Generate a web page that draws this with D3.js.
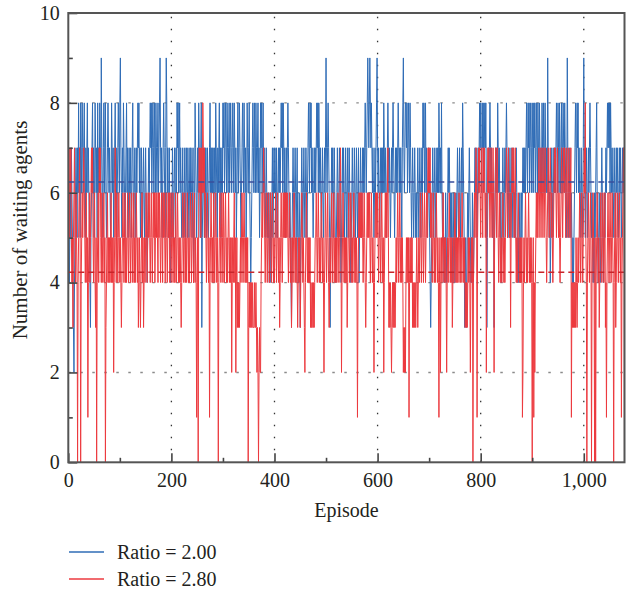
<!DOCTYPE html>
<html>
<head>
<meta charset="utf-8">
<script src="https://cdn.jsdelivr.net/npm/d3@7"></script>
<style>
  html, body { margin: 0; padding: 0; background: #fff; }
  svg { display: block; }
  text { font-family: "Liberation Serif", "Times New Roman", serif; fill: #231f20; }
</style>
</head>
<body>
<svg id="chart" width="632" height="590"></svg>
<script>
// Waiting agents per episode, ratio 2.00
const blueWaiting = [
  5,6,4,5,6,5,7,6,5,4,3,2,4,5,6,7,6,5,7,6,8,6,7,5,8,7,6,8,7,6,7,8,6,5,7,6,7,8,6,7,
  6,5,4,3,5,6,7,8,6,7,5,6,8,7,6,7,5,8,6,7,6,8,7,6,9,7,6,5,7,8,6,7,8,6,5,6,7,8,7,6,
  7,6,5,6,8,7,6,7,5,6,7,8,6,7,5,6,7,8,7,6,8,9,7,6,5,7,6,8,7,6,5,6,7,8,6,7,5,6,7,6,
  6,7,5,6,7,8,6,5,6,7,6,5,7,6,7,8,7,8,6,7,5,6,7,6,5,6,7,6,5,6,7,6,5,4,5,6,7,6,7,8,
  7,8,6,7,8,7,6,8,7,6,8,7,6,7,8,6,7,8,9,7,6,7,5,6,7,8,7,6,5,7,9,8,6,7,5,6,7,5,4,5,
  6,5,7,6,5,6,7,6,5,7,6,8,7,8,6,7,8,6,7,6,5,6,7,5,6,6,7,5,6,7,6,5,7,6,5,6,7,6,7,6,
  5,6,7,4,5,6,8,7,6,5,6,7,6,8,7,6,5,7,8,3,5,6,7,6,5,7,6,7,5,6,7,6,5,6,7,8,6,7,6,7,
  6,7,5,6,7,6,8,7,6,5,7,6,7,8,6,7,5,6,7,6,8,7,8,6,7,8,7,6,8,7,6,7,8,6,7,8,7,6,7,8,
  7,6,8,7,6,7,5,6,7,8,6,7,8,7,6,5,6,7,8,7,6,8,7,6,7,5,6,8,7,6,7,8,6,5,4,5,6,7,8,7,
  6,8,7,6,8,7,6,7,8,6,7,5,6,8,7,8,6,7,8,6,7,6,5,6,7,6,5,6,5,6,4,5,6,4,5,6,7,5,6,7,
  6,7,6,5,7,6,5,6,7,6,7,6,7,8,7,8,6,8,7,6,7,5,6,7,6,7,8,7,6,5,6,5,4,3,5,6,7,6,5,6,
  7,6,5,6,7,5,4,5,6,5,3,5,6,7,6,5,6,7,6,5,6,7,6,5,6,7,8,7,6,8,7,8,6,7,6,5,6,7,6,7,
  6,7,8,7,8,6,8,7,6,7,6,5,6,7,6,5,6,7,6,7,9,7,6,7,8,7,6,5,3,5,6,7,6,7,5,6,7,6,5,4,
  5,6,7,6,5,6,7,6,5,4,5,6,7,6,7,6,5,6,7,6,5,6,7,5,6,7,6,5,4,5,6,7,6,5,6,7,6,5,6,7,
  6,5,6,7,4,5,6,7,6,5,6,7,6,7,6,7,8,7,6,7,8,9,8,7,8,9,8,7,8,7,6,7,6,5,6,7,6,7,8,9,
  7,6,7,6,5,6,7,6,7,6,7,6,8,7,6,7,6,5,6,7,8,7,6,7,6,5,6,7,6,7,8,7,6,5,6,7,6,7,6,7,
  8,7,6,7,6,7,6,5,7,8,9,7,6,7,8,8,7,8,6,7,8,7,6,8,7,6,5,6,7,6,5,6,7,6,5,6,5,6,7,6,
  5,6,7,6,5,6,7,6,8,7,8,6,7,8,6,7,6,5,6,7,6,5,4,3,4,5,6,7,6,5,6,7,6,5,6,7,6,7,6,8,
  7,6,7,6,8,6,5,6,5,4,5,4,6,5,4,5,6,7,6,7,6,5,6,5,6,5,4,5,6,5,4,5,6,5,6,7,6,5,6,7,
  6,5,6,7,6,8,7,6,5,3,4,5,3,4,5,6,5,6,7,6,5,4,5,4,6,5,4,5,6,7,6,7,6,5,6,7,6,7,8,7,
  8,7,6,8,7,8,6,7,8,7,8,6,3,5,6,7,6,7,8,7,6,7,6,5,6,6,3,5,6,7,6,7,6,8,7,6,7,6,5,6,
  4,5,6,7,6,5,6,7,6,7,8,7,6,5,6,7,6,5,6,7,6,5,6,7,6,5,6,5,6,7,6,5,4,5,4,5,6,4,5,6,
  5,6,7,6,7,6,7,6,7,8,7,6,8,7,8,6,7,8,7,6,8,7,6,8,7,8,6,7,8,7,6,8,7,6,8,7,6,7,6,8,
  7,6,8,7,6,8,7,6,7,6,9,7,6,5,6,4,5,6,7,6,5,6,7,6,7,6,7,8,7,6,8,7,6,8,7,6,7,8,6,7,
  8,7,6,8,7,6,5,6,9,7,6,5,6,7,6,5,6,5,4,5,4,5,6,7,8,7,6,8,7,8,6,7,6,5,6,7,6,5,6,7,
  9,7,6,5,6,7,6,5,6,7,6,7,8,7,6,5,6,5,4,5,4,6,5,6,7,8,6,5,4,5,6,5,4,5,6,7,6,5,4,5,
  6,5,6,7,6,7,8,7,8,7,8,6,8,7,6,7,6,5,6,7,6,5,6,7,6,7,6,5,6,7,6,7,6,5,6,7,6,7,6,7
];

// Waiting agents per episode, ratio 2.80
const redWaiting = [
  7,6,5,7,6,7,5,4,5,3,5,6,7,5,4,6,5,4,0,4,5,6,7,5,0,4,5,6,5,6,7,6,5,4,5,6,4,5,1,4,
  5,6,4,5,6,7,6,7,5,4,5,6,4,3,5,0,4,5,6,4,7,6,7,5,4,6,5,4,5,6,4,5,0,3,4,5,6,4,5,4,
  5,4,5,6,4,5,4,5,2,4,5,7,5,4,6,5,4,5,6,5,4,5,4,3,4,5,6,5,4,5,6,4,5,4,5,6,5,4,5,6,
  5,4,5,6,5,4,5,6,4,5,4,5,6,5,4,5,3,4,5,4,3,4,5,6,4,5,3,4,5,4,5,6,5,4,5,6,5,6,5,4,
  5,6,5,4,5,6,5,6,4,5,6,5,6,5,4,6,5,6,5,4,5,6,5,4,6,5,6,5,4,5,6,5,4,5,6,5,6,4,5,6,
  5,4,5,6,5,4,5,4,6,5,4,5,6,5,4,5,4,5,4,3,4,5,6,5,4,5,6,4,5,4,5,6,5,4,5,4,5,6,5,4,
  5,6,5,4,5,6,4,5,4,1,4,5,0,6,7,6,7,5,6,7,6,8,7,6,7,5,6,5,4,5,6,5,4,5,1,4,5,6,5,4,
  5,4,6,5,4,5,6,5,4,5,4,0,4,5,6,5,4,5,6,5,4,6,5,4,5,6,5,4,5,4,5,6,5,4,5,4,5,2,4,5,
  4,5,6,4,5,2,4,5,3,4,3,4,3,4,5,4,5,6,5,4,5,6,5,4,5,4,5,4,5,0,3,4,3,4,3,4,3,4,3,3,
  3,4,3,3,4,3,2,3,2,0,2,3,2,2,4,5,6,5,6,7,6,5,4,5,6,5,4,5,6,5,4,5,6,5,4,5,6,5,4,5,
  4,5,6,5,4,5,6,5,4,5,3,4,5,6,5,4,5,6,5,6,5,6,5,6,5,6,5,4,5,6,5,4,5,3,4,5,4,5,6,5,
  4,5,4,5,4,3,4,5,4,5,3,4,5,6,5,4,5,4,3,2,4,5,6,5,4,5,4,5,4,5,3,4,3,3,4,3,4,3,4,5,
  5,6,5,4,5,6,5,4,5,4,5,6,5,4,5,4,2,4,5,6,5,4,5,6,5,4,3,4,5,4,5,6,5,4,5,6,5,4,5,4,
  5,4,5,6,5,4,5,6,7,5,2,4,5,6,5,4,5,4,5,4,5,3,4,5,6,5,4,5,6,5,4,5,4,5,6,5,4,5,4,5,
  4,1,4,5,6,5,6,5,6,5,6,5,4,5,6,5,4,3,4,5,6,5,6,5,6,5,4,5,6,5,4,5,4,2,4,5,6,5,6,5,
  6,5,4,5,6,5,4,5,6,5,4,5,2,4,5,6,5,6,5,6,7,5,3,4,3,4,3,2,3,4,3,4,3,4,3,4,5,4,5,6,
  5,4,5,6,5,4,5,4,5,4,2,3,2,3,2,4,5,4,5,4,5,1,4,5,4,5,4,5,3,4,3,4,3,4,3,4,5,4,3,4,
  5,4,5,6,5,4,5,6,5,4,5,6,5,4,5,6,5,6,7,6,7,6,7,5,6,5,4,5,6,5,4,5,4,5,6,5,4,5,4,1,
  4,5,2,4,5,4,5,6,5,4,5,4,5,4,2,4,5,4,5,6,5,4,5,4,5,3,4,5,4,5,6,5,4,5,4,5,4,5,6,5,
  4,5,4,5,6,5,4,5,4,5,3,4,3,4,3,4,5,4,5,4,2,4,5,4,5,0,4,5,6,5,6,7,6,1,5,6,7,6,7,6,
  5,6,7,6,5,7,6,7,6,5,6,2,5,6,7,6,7,6,5,6,7,6,5,6,7,6,2,5,6,7,6,5,7,6,5,4,5,6,5,4,
  5,4,5,6,5,4,5,4,5,6,7,6,5,6,7,6,5,6,3,5,6,7,6,7,6,5,6,7,5,4,5,4,5,6,5,4,5,4,5,4,
  5,1,2,4,5,4,5,6,5,4,5,4,5,6,5,4,5,4,5,4,0,4,5,1,4,2,4,5,6,5,6,5,6,7,6,5,6,7,6,5,
  6,7,6,5,6,7,6,5,4,5,6,7,6,5,6,7,6,5,6,5,4,5,6,7,6,7,6,5,6,7,6,5,6,5,4,5,6,7,6,5,
  6,7,6,7,6,5,6,7,6,5,6,7,6,5,6,7,1,4,3,4,3,4,3,4,3,5,4,3,4,5,4,5,6,5,4,5,6,5,4,5,
  6,7,6,8,5,4,0,4,5,6,5,4,5,6,5,0,4,5,6,5,4,0,5,0,4,5,6,5,4,5,3,4,5,6,5,4,5,6,5,4,
  5,6,3,4,1,4,5,6,5,4,5,6,5,4,5,6,5,4,0,4,5,6,3,4,5,6,5,4,5,6,5,4,5,1,4,5,6,7,6,0
];

const seriesNames = ["Ratio = 2.00", "Ratio = 2.80"];
const seriesColors = ["#2f6cb6", "#ec3a3f"];
const averageColors = ["#3a4f9c", "#c7252b"];
const averageWaiting = [6.24, 4.23];

const xMajorTicks = [0, 200, 400, 600, 800, 1000];
const xMinorTicks = [100, 300, 500, 700, 900];
const yMajorTicks = [0, 2, 4, 6, 8, 10];
const yMinorTicks = [1, 3, 5, 7, 9];
const xTitle = "Episode";
const yTitle = "Number of waiting agents";

const svg = d3.select("#chart");
const box = { left: 68.3, right: 624.5, top: 13, bottom: 462.3 };

const x = d3.scaleLinear().domain([0, blueWaiting.length - 1]).range([box.left, box.right]);
const y = d3.scaleLinear().domain([0, 10]).range([box.bottom, box.top]);

svg.append("defs").append("clipPath").attr("id", "plotClip")
  .append("rect")
  .attr("x", box.left).attr("y", box.top - 2)
  .attr("width", box.right - box.left).attr("height", box.bottom - box.top + 2);

// dotted grid
const grid = svg.append("g");
grid.selectAll("line.hgrid")
  .data(yMajorTicks.filter(v => v > 0 && v < 10))
  .join("line")
  .attr("x1", box.left).attr("x2", box.right)
  .attr("y1", d => y(d)).attr("y2", d => y(d))
  .attr("stroke", "#8a8a8a").attr("stroke-width", 1.4)
  .attr("stroke-dasharray", "2.5,9.5");
grid.selectAll("line.vgrid")
  .data(xMajorTicks.filter(v => v > 0))
  .join("line")
  .attr("x1", d => x(d)).attr("x2", d => x(d))
  .attr("y1", box.bottom).attr("y2", box.top)
  .attr("stroke", "#333").attr("stroke-width", 1.3)
  .attr("stroke-dasharray", "1.5,10.5");

// series lines
const line = d3.line().x((d, i) => x(i)).y(d => y(d));
const plot = svg.append("g").attr("clip-path", "url(#plotClip)");
[blueWaiting, redWaiting].forEach((vals, k) => {
  plot.append("path")
    .datum(vals)
    .attr("fill", "none")
    .attr("stroke", seriesColors[k])
    .attr("stroke-width", 1)
    .attr("d", line);
});

// average levels
averageWaiting.forEach((v, k) => {
  plot.append("line")
    .attr("x1", box.left).attr("x2", box.right)
    .attr("y1", y(v)).attr("y2", y(v))
    .attr("stroke", averageColors[k]).attr("stroke-width", 1.5)
    .attr("stroke-dasharray", "6,4");
});

// axes with inward ticks
const fmt = d3.format(",");
const xAxis = svg.append("g").attr("transform", `translate(0,${box.bottom})`)
  .call(d3.axisBottom(x).tickValues(xMajorTicks).tickSize(-9).tickPadding(11).tickFormat(fmt));
const xMinor = svg.append("g").attr("transform", `translate(0,${box.bottom})`)
  .call(d3.axisBottom(x).tickValues(xMinorTicks).tickSize(-4.5).tickFormat(""));
const yAxis = svg.append("g").attr("transform", `translate(${box.left},0)`)
  .call(d3.axisLeft(y).tickValues(yMajorTicks).tickSize(-9).tickPadding(8.5));
const yMinor = svg.append("g").attr("transform", `translate(${box.left},0)`)
  .call(d3.axisLeft(y).tickValues(yMinorTicks).tickSize(-4.5).tickFormat(""));

[xAxis, xMinor, yAxis, yMinor].forEach(g => {
  g.select(".domain").remove();
  g.selectAll(".tick line").attr("stroke", "#444").attr("stroke-width", 1.6);
  g.selectAll(".tick text")
    .attr("font-family", '"Liberation Serif", "Times New Roman", serif')
    .attr("font-size", 20).attr("fill", "#231f20");
});

// frame
svg.append("rect")
  .attr("x", box.left).attr("y", box.top)
  .attr("width", box.right - box.left).attr("height", box.bottom - box.top)
  .attr("fill", "none").attr("stroke", "#555").attr("stroke-width", 2);

// axis titles
svg.append("text")
  .attr("x", (box.left + box.right) / 2).attr("y", 517)
  .attr("text-anchor", "middle").attr("font-size", 20)
  .text(xTitle);
svg.append("text")
  .attr("transform", `translate(27,230) rotate(-90)`)
  .attr("text-anchor", "middle").attr("font-size", 21)
  .text(yTitle);

// legend
const legend = svg.append("g");
seriesNames.forEach((name, k) => {
  const ly = 552 + k * 27;
  legend.append("line")
    .attr("x1", 69).attr("x2", 104).attr("y1", ly).attr("y2", ly)
    .attr("stroke", seriesColors[k]).attr("stroke-width", 1.3);
  legend.append("text")
    .attr("x", 117).attr("y", ly).attr("dy", "0.35em")
    .attr("font-size", 20)
    .text(name);
});
</script>
</body>
</html>
